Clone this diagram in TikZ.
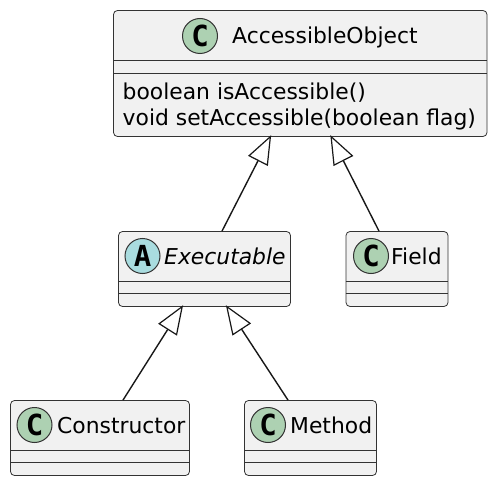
\documentclass[tikz,border=0pt]{standalone}
\usepackage{fontspec}
\setmainfont{DejaVu Sans}
\newfontfamily\glyphfont{DejaVu Sans Mono}
\usetikzlibrary{arrows.meta}
\definecolor{boxfill}{HTML}{F1F1F1}
\definecolor{boxline}{HTML}{333333}
\definecolor{arrowline}{HTML}{181818}
\definecolor{classspot}{HTML}{ADD1B2}
\definecolor{abstractspot}{HTML}{A9DCDF}
\tikzset{
  umlbox/.style={draw=boxline,fill=boxfill,line width=0.8pt,rounded corners=4pt,inner sep=0pt},
  spot/.style={circle,draw=boxline,line width=1pt,minimum size=35pt,inner sep=0pt,font=\glyphfont\bfseries\fontsize{29}{29}\selectfont},
  label/.style={inner sep=0pt,font=\fontsize{21.85}{26}\selectfont,text=black},
  sep/.style={draw=boxline,line width=0.8pt},
  inherit/.style={draw=arrowline,line width=1.4pt,shorten >=-2pt,-{Triangle[open,fill=white,length=29pt,width=22pt,line width=1.2pt]}}
}
\begin{document}
\begin{tikzpicture}[x=1pt,y=-1pt]
\useasboundingbox (0,0) rectangle (495,484);
% boxes
\node[umlbox,minimum width=373.5pt,minimum height=126pt] (obj) at (300.25,73.5) {};
\node[umlbox,minimum width=172pt,minimum height=75pt] (exec) at (204.5,269) {};
\node[umlbox,minimum width=102pt,minimum height=75pt] (field) at (397,269) {};
\node[umlbox,minimum width=179pt,minimum height=75pt] (ctor) at (100,438) {};
\node[umlbox,minimum width=132pt,minimum height=75pt] (meth) at (310.5,438) {};
% compartment separators
\draw[sep] ([yshift=-50pt]obj.north west) -- ([yshift=-50pt]obj.north east);
\draw[sep] ([yshift=-63pt]obj.north west) -- ([yshift=-63pt]obj.north east);
\foreach \b in {exec,field,ctor,meth}{
  \draw[sep] ([yshift=-50pt]\b.north west) -- ([yshift=-50pt]\b.north east);
  \draw[sep] ([yshift=-62pt]\b.north west) -- ([yshift=-62pt]\b.north east);
}
% spots
\node[spot,fill=classspot] (sobj) at (200,36) {C};
\node[spot,fill=abstractspot] (sexec) at (142.5,256) {A};
\node[spot,fill=classspot] (sfield) at (371,256) {C};
\node[spot,fill=classspot] (sctor) at (34.5,425) {C};
\node[spot,fill=classspot] (smeth) at (268,425) {C};
% titles
\node[label,anchor=base west] (tobj) at (232,44) {AccessibleObject};
\node[label,anchor=base west] (texec) at (164,264) {\itshape Executable};
\node[label,anchor=base west] (tfield) at (391,264) {Field};
\node[label,anchor=base west] (tctor) at (57,433) {Constructor};
\node[label,anchor=base west] (tmeth) at (290,433) {Method};
% members
\node[label,anchor=base west] (m1) at (122.5,100) {boolean isAccessible()};
\node[label,anchor=base west] (m2) at (122.5,126) {void setAccessible(boolean flag)};
% connectors
\draw[inherit] ([xshift=17.5pt]exec.north) -- ([xshift=-30pt]obj.south);
\draw[inherit] ([xshift=-18pt]field.north) -- ([xshift=31pt]obj.south);
\draw[inherit] ([xshift=23pt]ctor.north) -- ([xshift=-22.5pt]exec.south);
\draw[inherit] ([xshift=-22.5pt]meth.north) -- ([xshift=22.5pt]exec.south);
\end{tikzpicture}
\end{document}
